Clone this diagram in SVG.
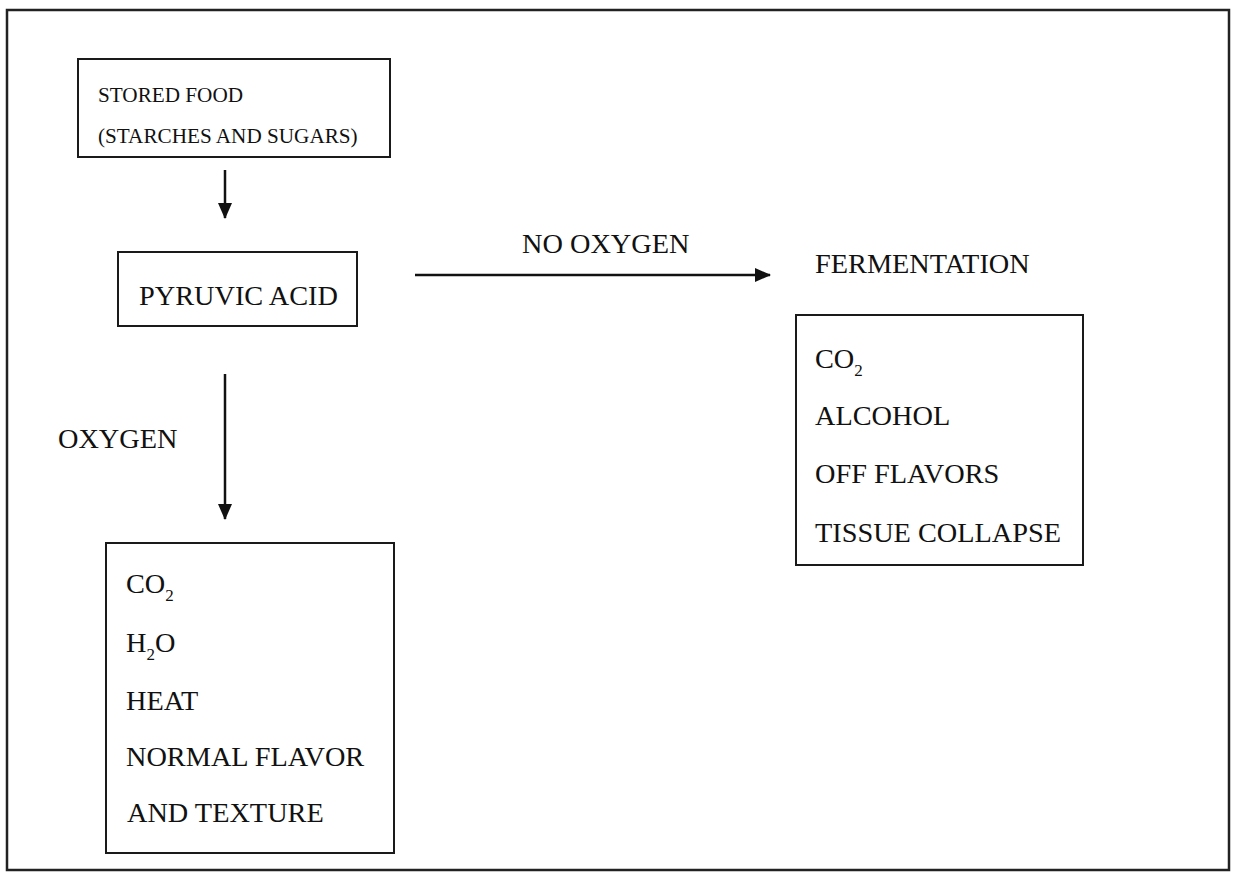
<svg xmlns="http://www.w3.org/2000/svg" width="1235" height="872" viewBox="0 0 1235 872">
<defs>
<style>
.box{fill:none;stroke:#1a1a1a;stroke-width:2}
.frame{fill:none;stroke:#222;stroke-width:2.5}
.t{font-family:"Liberation Serif","Times New Roman",serif;fill:#111}
.s{font-size:21.2px}
.m{font-size:28.3px}
.sub{font-size:17px}
.conn{stroke:#111;stroke-width:2.5;fill:none}
</style>
<marker id="ah" markerUnits="userSpaceOnUse" markerWidth="16" markerHeight="14" refX="15" refY="7" orient="auto">
<path d="M0,0 L16,7 L0,14 Z" fill="#111"/>
</marker>
</defs>
<rect width="1235" height="872" fill="#fff"/>
<rect class="frame" x="7" y="10" width="1222" height="860"/>
<g id="stored-food">
<rect class="box" x="78" y="59" width="312" height="98"/>
<text class="t s" x="98" y="102">STORED FOOD</text>
<text class="t s" x="98" y="143">(STARCHES AND SUGARS)</text>
</g>
<g id="pyruvic-acid">
<rect class="box" x="118" y="252" width="239" height="74"/>
<text class="t m" x="139" y="305">PYRUVIC ACID</text>
</g>
<g id="fermentation">
<text class="t m" x="815" y="273">FERMENTATION</text>
<rect class="box" x="796" y="315" width="287" height="250"/>
<text class="t m" x="815" y="368">CO<tspan class="sub" dy="8">2</tspan></text>
<text class="t m" x="815" y="425">ALCOHOL</text>
<text class="t m" x="815" y="483">OFF FLAVORS</text>
<text class="t m" x="815" y="542">TISSUE COLLAPSE</text>
</g>
<g id="aerobic">
<rect class="box" x="106" y="543" width="288" height="310"/>
<text class="t m" x="126" y="593">CO<tspan class="sub" dy="8">2</tspan></text>
<text class="t m" x="126" y="652">H<tspan class="sub" dy="8">2</tspan><tspan dy="-8">O</tspan></text>
<text class="t m" x="126" y="710">HEAT</text>
<text class="t m" x="126" y="766">NORMAL FLAVOR</text>
<text class="t m" x="127" y="822">AND TEXTURE</text>
</g>
<g id="connectors">
<line class="conn" x1="225" y1="170" x2="225" y2="218" marker-end="url(#ah)"/>
<line class="conn" x1="415" y1="275" x2="770" y2="275" marker-end="url(#ah)"/>
<text class="t m" x="522" y="253">NO OXYGEN</text>
<line class="conn" x1="225" y1="374" x2="225" y2="519" marker-end="url(#ah)"/>
<text class="t m" x="58" y="448">OXYGEN</text>
</g>
</svg>
